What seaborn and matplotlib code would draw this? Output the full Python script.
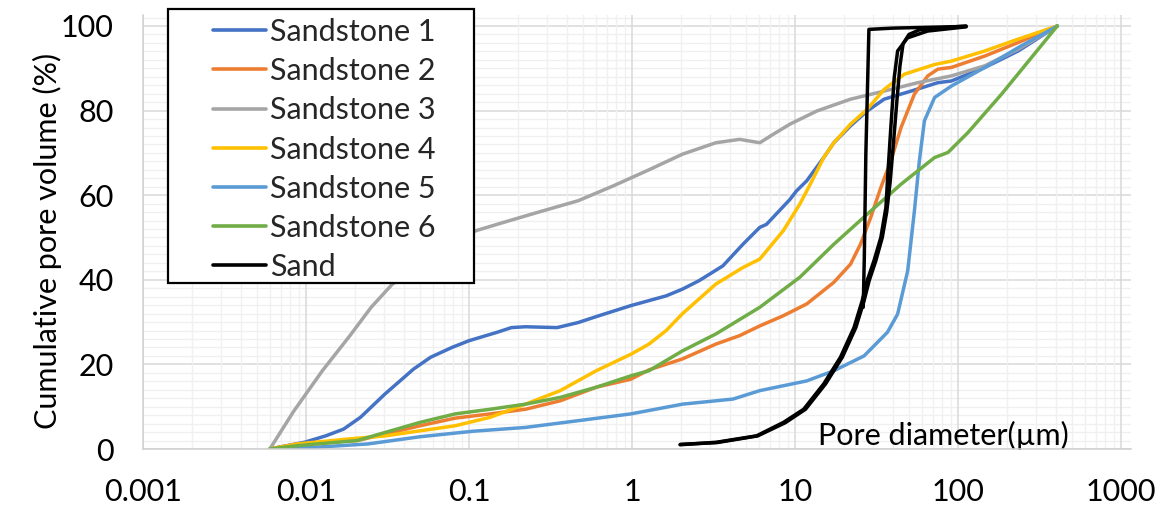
import numpy as np
import pandas as pd
import matplotlib
matplotlib.use("Agg")
import matplotlib.pyplot as plt
from matplotlib.ticker import LogLocator, MultipleLocator, NullFormatter
from matplotlib.patches import Rectangle
import seaborn as sns

# ---------------- data (pore diameter in µm, cumulative pore volume in %) ----------------
series_names = ["Sandstone 1", "Sandstone 2", "Sandstone 3", "Sandstone 4",
                "Sandstone 5", "Sandstone 6", "Sand"]
series_colors = ["#4472C4", "#ED7D31", "#A5A5A5", "#FFC000", "#5B9BD5", "#70AD47", "#000000"]

s1_d = [0.0060, 0.0098, 0.0132, 0.0170, 0.0216, 0.0305, 0.0457, 0.0582, 0.0785, 0.100,
        0.149, 0.182, 0.222, 0.347, 0.468, 0.603, 0.984, 1.62, 2.04, 2.58, 3.61, 4.79,
        6.08, 6.68, 9.31, 10.2, 11.8, 15.0, 17.3, 21.9, 27.7, 35.2, 51.4, 75.2, 91.0,
        146, 234, 406]
s1_v = [0, 1.6, 3.1, 4.7, 7.5, 13.0, 18.9, 21.7, 24.0, 25.6, 27.6, 28.7, 28.9, 28.7,
        29.9, 31.3, 33.9, 36.2, 37.8, 39.8, 43.3, 48.4, 52.4, 53.1, 59.0, 61.0, 63.4,
        68.9, 72.4, 76.4, 79.9, 82.7, 84.6, 86.6, 87.0, 90.2, 94.1, 100]

s2_d = [0.0060, 0.0089, 0.0206, 0.0305, 0.0501, 0.0824, 0.135, 0.222, 0.363, 0.603,
        0.984, 1.27, 2.04, 3.27, 4.57, 6.08, 8.47, 11.8, 17.3, 21.9, 25.2, 29.1, 33.6,
        38.7, 44.7, 54.0, 65.2, 75.2, 91.0, 146, 234, 406]
s2_v = [0, 1.2, 2.0, 3.5, 5.5, 7.3, 8.3, 9.4, 11.4, 14.6, 16.5, 18.7, 21.3, 24.8, 26.8,
        29.1, 31.5, 34.3, 39.4, 43.7, 48.4, 54.7, 61.8, 68.1, 76.0, 83.9, 88.2, 89.8,
        90.2, 92.9, 96.1, 100]

s3_d = [0.0060, 0.00843, 0.0126, 0.0186, 0.0251, 0.0339, 0.110, 0.174, 0.284, 0.468,
        0.767, 1.27, 2.04, 3.27, 4.57, 6.08, 7.35, 9.31, 13.6, 21.9, 35.2, 56.6, 91.0,
        146, 234, 406]
s3_v = [0, 9.0, 18.5, 26.8, 33.5, 39.0, 51.6, 53.9, 56.3, 58.7, 62.2, 66.0, 69.7, 72.4,
        73.2, 72.4, 74.4, 76.8, 79.9, 82.7, 84.6, 86.6, 88.2, 90.6, 94.5, 100]

s4_d = [0.0060, 0.0089, 0.0186, 0.0305, 0.0501, 0.0824, 0.135, 0.222, 0.363, 0.603,
        0.984, 1.27, 1.62, 2.04, 3.27, 4.79, 6.08, 8.47, 10.7, 12.4, 15.0, 17.3, 21.9,
        27.7, 35.2, 46.8, 71.8, 91.0, 146, 234, 406]
s4_v = [0, 1.2, 2.4, 3.1, 4.3, 5.5, 7.5, 10.6, 13.8, 18.5, 22.4, 24.8, 28.0, 32.0, 39.0,
        42.9, 44.9, 51.6, 57.9, 62.6, 68.9, 72.4, 76.8, 80.3, 85.0, 88.6, 90.9, 91.7,
        94.1, 96.9, 100]

s5_d = [0.0060, 0.01135, 0.024, 0.0501, 0.106, 0.222, 0.468, 0.984, 2.04, 4.16, 6.08,
        11.8, 17.3, 26.5, 36.9, 42.6, 49.1, 54.0, 57.9, 62.2, 71.8, 91.0, 146, 234, 406]
s5_v = [0, 0.4, 1.2, 2.9, 4.2, 5.1, 6.7, 8.3, 10.6, 11.8, 13.8, 16.1, 18.5, 22.0, 27.6,
        31.9, 42.1, 56.3, 68.1, 77.6, 83.1, 85.8, 90.2, 94.9, 100]

s6_d = [0.0060, 0.0089, 0.0206, 0.0305, 0.0501, 0.0824, 0.135, 0.222, 0.363, 0.603,
        0.984, 1.27, 2.04, 3.27, 6.08, 10.7, 17.3, 27.7, 44.7, 71.8, 86.7, 115, 185, 406]
s6_v = [0, 0.8, 2.0, 3.9, 6.3, 8.3, 9.4, 10.6, 12.2, 14.6, 17.3, 18.5, 23.2, 27.2, 33.5,
        40.6, 48.4, 55.5, 62.6, 68.9, 70.1, 74.8, 83.9, 100]

# Sand: up-going strand, down-going strand, and the narrow loop (three strands)
sand_up_d = [1.97, 3.3, 5.8, 8.5, 11.3, 15.0, 19.0, 23.0, 25.8, 27.7, 30.5, 33.6, 36.1,
             37.2, 38.7, 40.6, 42.6, 49.0, 65.0, 112]
sand_up_v = [1.0, 1.6, 3.1, 6.3, 9.4, 15.4, 21.7, 28.7, 35.0, 39.8, 44.5, 50.0, 57.1,
             65.7, 76.0, 87.8, 94.1, 97.2, 98.8, 99.8]
sand_down_d = [112, 80.0, 58.0, 50.0, 46.0, 44.0, 42.3, 40.3, 38.3, 36.5, 34.3, 31.3,
               28.5, 26.5, 23.6, 19.5, 15.4, 11.6, 8.7, 5.9, 3.3, 1.98]
sand_down_v = [100.0, 99.6, 99.1, 98.0, 95.8, 90.5, 83.0, 73.0, 63.0, 56.0, 50.0, 44.5,
               39.8, 35.0, 28.7, 21.7, 15.4, 9.4, 6.2, 3.1, 1.5, 1.1]
sand_loop_d = [26.2, 26.6, 27.2, 28.4, 40.0, 112]
sand_loop_v = [33.5, 45.0, 70.0, 99.2, 99.5, 99.9]

x_ticks = [0.001, 0.01, 0.1, 1, 10, 100, 1000]
x_tick_labels = ["0.001", "0.01", "0.1", "1", "10", "100", "1000"]
y_ticks = [0, 20, 40, 60, 80, 100]
y_tick_labels = ["0", "20", "40", "60", "80", "100"]
x_title = "Pore diameter(\u00b5m)"
y_title = "Cumulative pore volume (%)"

# ---------------- build long table ----------------
strands = [
    ("Sandstone 1", 0, s1_d, s1_v),
    ("Sandstone 2", 0, s2_d, s2_v),
    ("Sandstone 3", 0, s3_d, s3_v),
    ("Sandstone 4", 0, s4_d, s4_v),
    ("Sandstone 5", 0, s5_d, s5_v),
    ("Sandstone 6", 0, s6_d, s6_v),
    ("Sand", 0, sand_up_d, sand_up_v),
    ("Sand", 1, sand_down_d, sand_down_v),
    ("Sand", 2, sand_loop_d, sand_loop_v),
]
rows = []
for name, unit, dd, vv in strands:
    for i, (x, y) in enumerate(zip(dd, vv)):
        rows.append({"series": name, "strand": unit, "step": i, "d": x, "v": y})
df = pd.DataFrame(rows)

# ---------------- style ----------------
sns.set_theme(style="white")
plt.rcParams["font.family"] = ["Lato", "DejaVu Sans"]
FS = 22

W, H = 1171, 511
fig = plt.figure(figsize=(W / 100, H / 100), dpi=100)
ax = fig.add_axes([143 / W, 1 - 449 / H, (1131 - 143) / W, (449 - 15) / H])
ax.set_xscale("log")

sns.lineplot(data=df, x="d", y="v", hue="series", hue_order=series_names,
             units="strand", palette=dict(zip(series_names, series_colors)), sort=False,
             estimator=None, linewidth=2.5, ax=ax)

ax.set_xlim(0.001, 1151)
ax.set_ylim(0, 102.6)
ax.set_xticks(x_ticks, x_tick_labels)
ax.xaxis.set_minor_locator(LogLocator(base=10, subs=np.arange(2, 10)))
ax.xaxis.set_minor_formatter(NullFormatter())
ax.set_yticks(y_ticks, y_tick_labels)
ax.yaxis.set_minor_locator(MultipleLocator(2))
ax.yaxis.set_minor_formatter(NullFormatter())
ax.tick_params(which="both", length=0)
ax.tick_params(axis="x", pad=21, labelsize=FS, labelcolor="black")
ax.tick_params(axis="y", pad=21, labelsize=FS, labelcolor="black")

ax.set_axisbelow(True)
ax.grid(True, which="minor", color="#F0F0F0", linewidth=1.0)
ax.grid(True, which="major", color="#D9D9D9", linewidth=1.1)
ax.xaxis.set_zorder(0.6)
for s in ["top", "right"]:
    ax.spines[s].set_visible(False)
for s in ["left", "bottom"]:
    ax.spines[s].set_color("#D0D0D0")
    ax.spines[s].set_linewidth(1.1)

ax.set_ylabel(y_title, fontsize=FS, color="black")
ax.yaxis.set_label_coords(-0.082, 0.48)
ax.set_xlabel(x_title, fontsize=FS, color="black")
ax.xaxis.set_label_coords(0.81, 0.0645)

# ---------------- legend ----------------
handles, labels = ax.get_legend_handles_labels()
if ax.get_legend() is not None:
    ax.get_legend().remove()
box = Rectangle((168 / W, 1 - 283 / H), (474 - 168) / W, (283 - 9) / H,
                transform=fig.transFigure, facecolor="white", edgecolor="black",
                linewidth=1.6, zorder=4)
fig.add_artist(box)
leg = fig.legend(handles, labels, loc="upper left", bbox_to_anchor=(213 / W, 1 - 18 / H),
                 frameon=False, fontsize=FS, handlelength=1.74, handletextpad=0.13,
                 labelspacing=0.366, borderpad=0, borderaxespad=0)
leg.set_zorder(5)
for ln in leg.get_lines():
    ln.set_linewidth(2.6)

fig.savefig("out.png", dpi=100)
